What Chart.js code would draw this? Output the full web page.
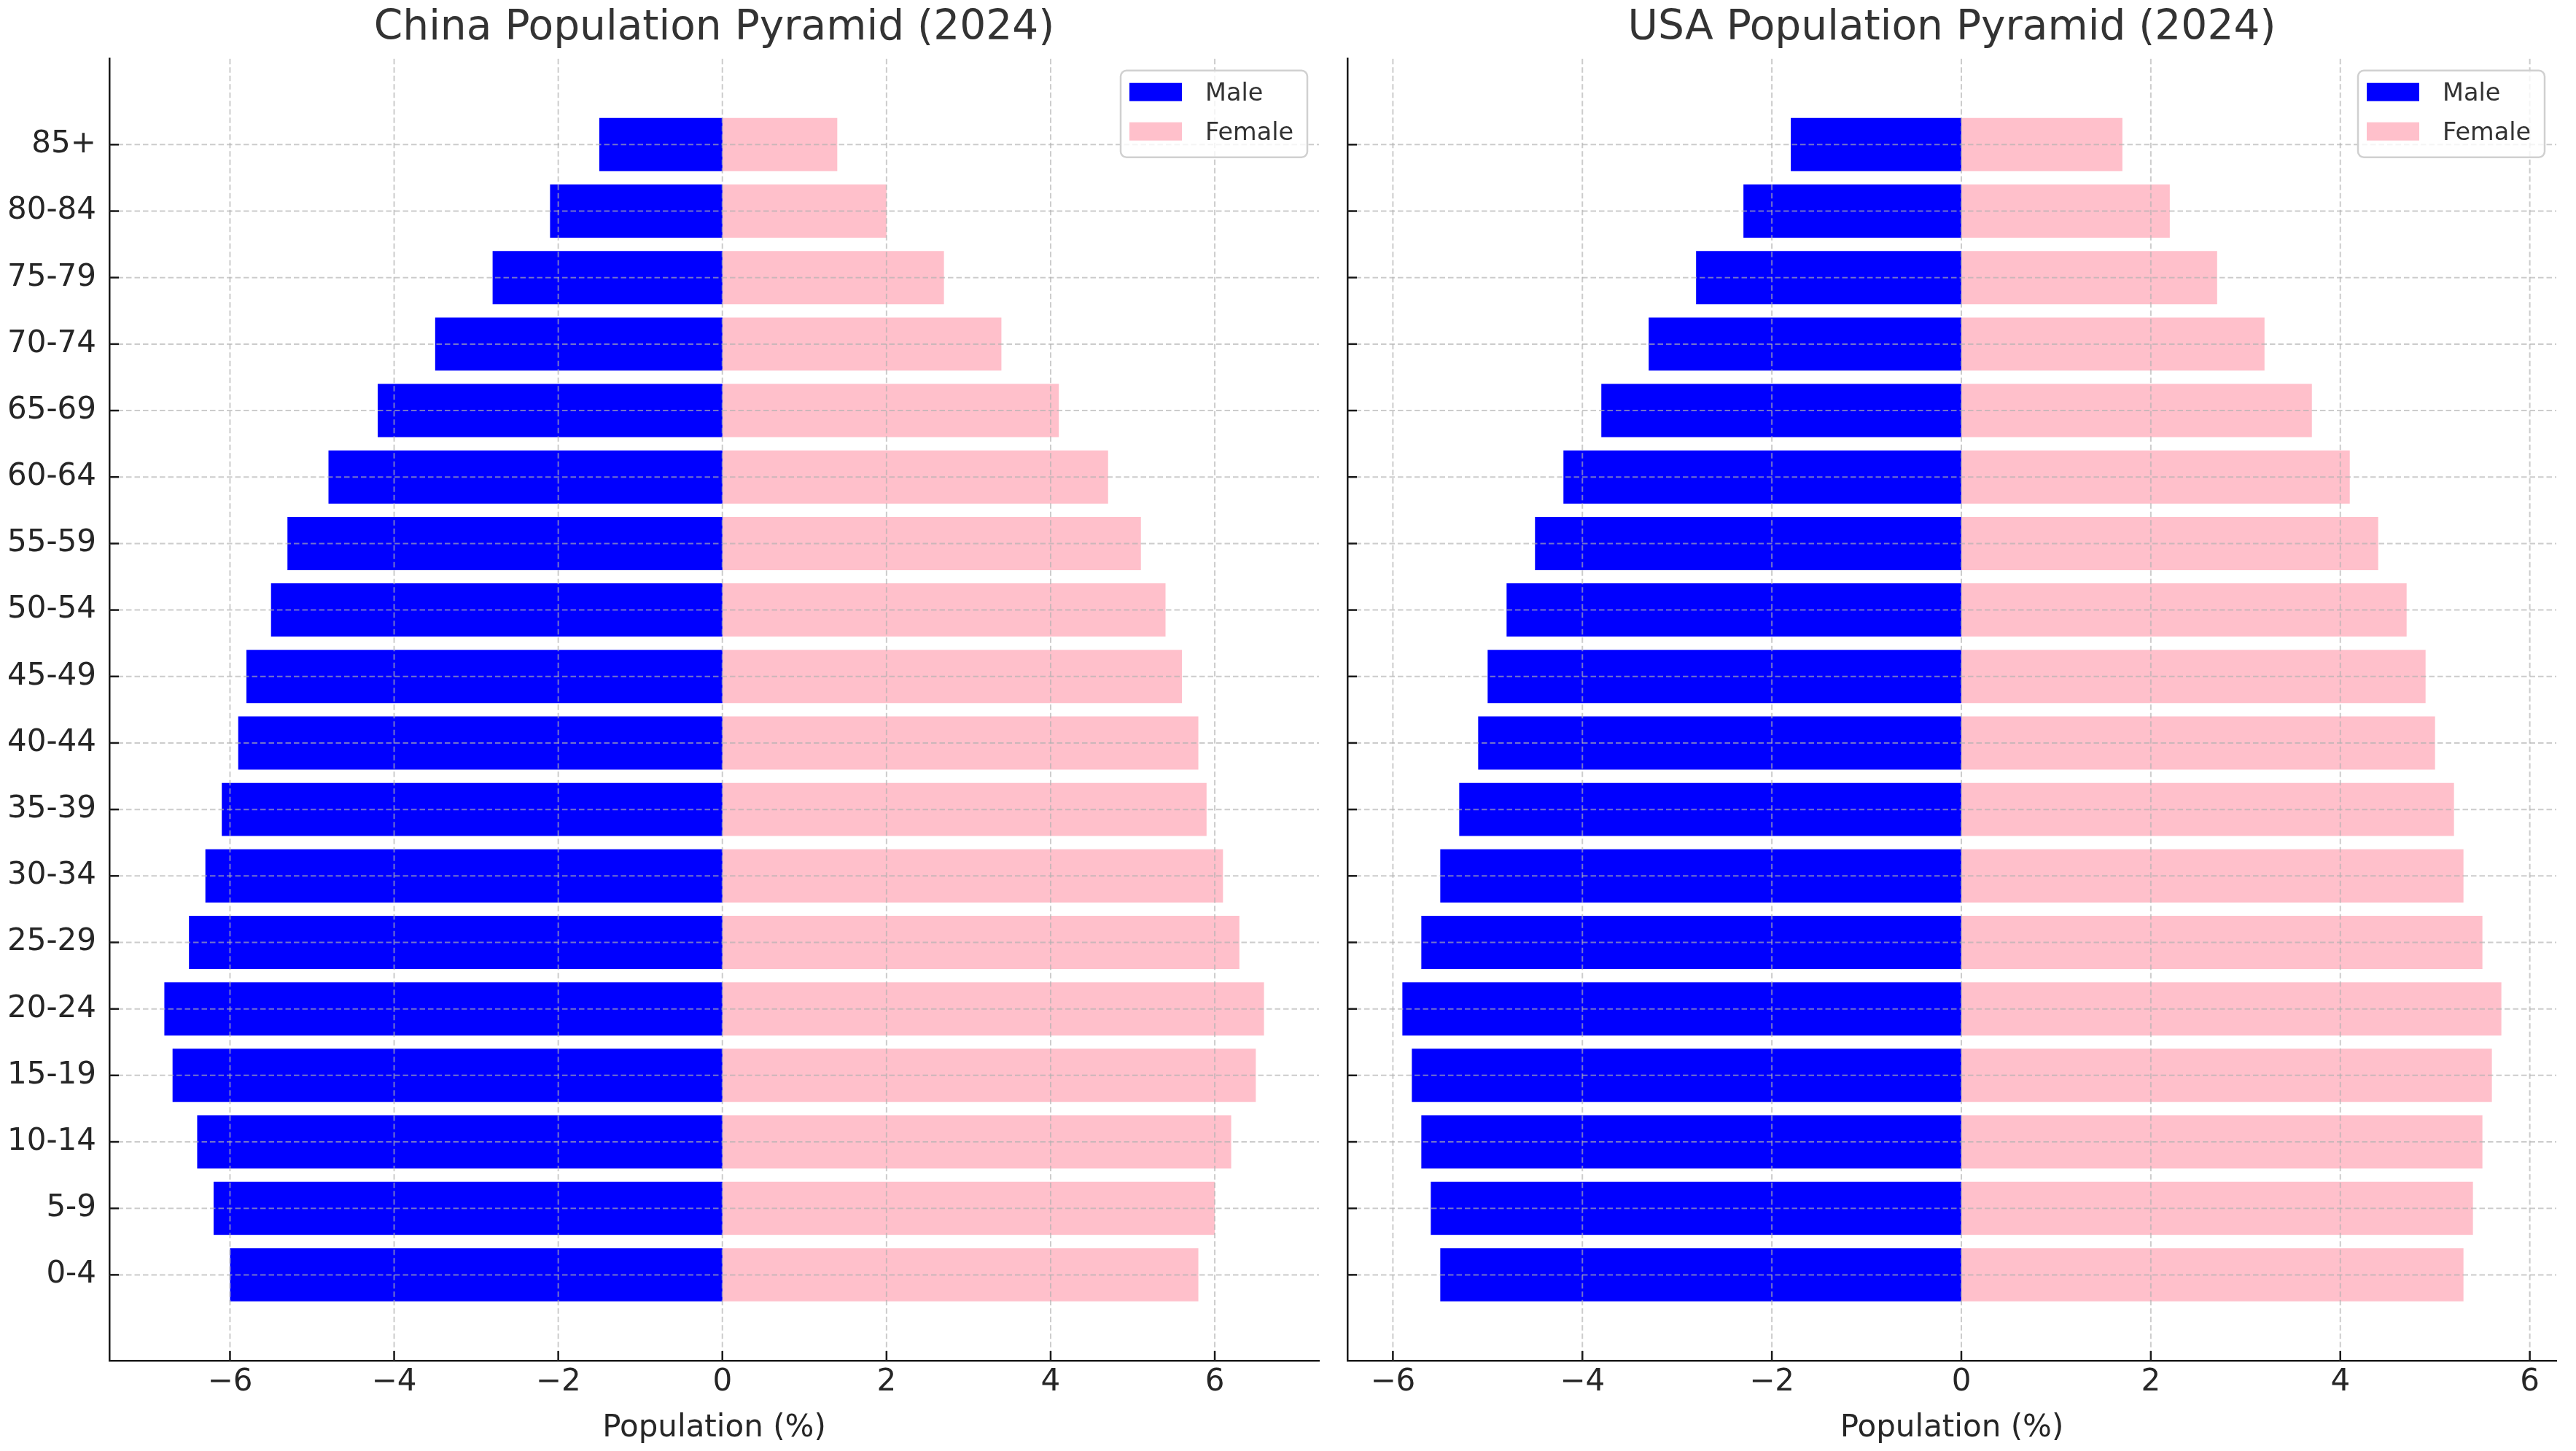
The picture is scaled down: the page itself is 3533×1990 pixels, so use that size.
<!DOCTYPE html>
<html>
<head>
<meta charset="utf-8">
<script src="https://cdn.jsdelivr.net/npm/chart.js@4.4.1/dist/chart.umd.min.js"></script>
<style>
  body { margin: 0; background: #fff; width: 3533px; height: 1990px; overflow: hidden; }
  canvas { position: absolute; top: 0; }
  #china { left: 0; }
  #usa { left: 1828px; }
</style>
</head>
<body>
<canvas id="china" width="1828" height="1990"></canvas>
<canvas id="usa" width="1705" height="1990"></canvas>
<script>
// age groups, bottom to top
var ageGroups = ['0-4', '5-9', '10-14', '15-19', '20-24', '25-29', '30-34', '35-39', '40-44',
                 '45-49', '50-54', '55-59', '60-64', '65-69', '70-74', '75-79', '80-84', '85+'];

// population share (%), male plotted to the left
var chinaMale   = [-6.0, -6.2, -6.4, -6.7, -6.8, -6.5, -6.3, -6.1, -5.9, -5.8, -5.5, -5.3, -4.8, -4.2, -3.5, -2.8, -2.1, -1.5];
var chinaFemale = [5.8, 6.0, 6.2, 6.5, 6.6, 6.3, 6.1, 5.9, 5.8, 5.6, 5.4, 5.1, 4.7, 4.1, 3.4, 2.7, 2.0, 1.4];
var usaMale     = [-5.5, -5.6, -5.7, -5.8, -5.9, -5.7, -5.5, -5.3, -5.1, -5.0, -4.8, -4.5, -4.2, -3.8, -3.3, -2.8, -2.3, -1.8];
var usaFemale   = [5.3, 5.4, 5.5, 5.6, 5.7, 5.5, 5.3, 5.2, 5.0, 4.9, 4.7, 4.4, 4.1, 3.7, 3.2, 2.7, 2.2, 1.7];

var seriesLabels = ['Male', 'Female'];
var seriesColors = ['#0000ff', '#ffc0cb'];
var xTickStep = 2;

Chart.defaults.font.family = "'DejaVu Sans', sans-serif";
Chart.defaults.color = '#262626';

// matplotlib style autoscale (5% margin)
function limits(lo, hi) {
    var pad = (hi - lo) * 0.05;
    return [lo - pad, hi + pad];
}

function minus(v) {
    return (v < 0 ? '\u2212' : '') + Math.abs(v);
}

// dashed grid on top of the bars, inward tick marks, legend inside the axes
var overlay = {
    id: 'overlay',
    afterDatasetsDraw: function (chart) {
        var ctx = chart.ctx, area = chart.chartArea;
        var xs = chart.scales.x, ys = chart.scales.y;
        ctx.save();
        ctx.strokeStyle = 'rgba(176,176,176,0.65)';
        ctx.lineWidth = 2;
        ctx.setLineDash([7.5, 4]);
        xs.ticks.forEach(function (t) {
            var px = xs.getPixelForValue(t.value);
            ctx.beginPath();
            ctx.moveTo(px, area.top);
            ctx.lineTo(px, area.bottom);
            ctx.stroke();
        });
        ys.ticks.forEach(function (t) {
            var py = ys.getPixelForValue(t.value);
            ctx.beginPath();
            ctx.moveTo(area.left, py);
            ctx.lineTo(area.right, py);
            ctx.stroke();
        });
        ctx.setLineDash([]);
        ctx.strokeStyle = '#1a1a1a';
        ctx.lineWidth = 2.5;
        xs.ticks.forEach(function (t) {
            var px = xs.getPixelForValue(t.value);
            ctx.beginPath();
            ctx.moveTo(px, area.bottom);
            ctx.lineTo(px, area.bottom - 13);
            ctx.stroke();
        });
        ys.ticks.forEach(function (t) {
            var py = ys.getPixelForValue(t.value);
            ctx.beginPath();
            ctx.moveTo(area.left, py);
            ctx.lineTo(area.left + 13, py);
            ctx.stroke();
        });
        ctx.restore();
    },
    afterDraw: function (chart) {
        var ctx = chart.ctx, area = chart.chartArea;
        var w = 256, h = 119;
        var bx = area.right - 16 - w, by = area.top + 16;
        ctx.save();
        ctx.beginPath();
        ctx.roundRect(bx, by, w, h, 8);
        ctx.fillStyle = 'rgba(255,255,255,0.8)';
        ctx.fill();
        ctx.strokeStyle = '#d0d0d0';
        ctx.lineWidth = 2.5;
        ctx.stroke();
        ctx.font = "33.5px 'DejaVu Sans'";
        ctx.textBaseline = 'alphabetic';
        chart.data.datasets.forEach(function (ds, i) {
            ctx.fillStyle = ds.backgroundColor;
            ctx.fillRect(bx + 12, by + 17 + i * 54, 72, 25);
            ctx.fillStyle = '#333';
            ctx.fillText(ds.label, bx + 116, by + 41 + i * 54);
        });
        ctx.restore();
    }
};

function makeChart(id, title, male, female, yAxisWidth, padRight, showLabels) {
    var xl = limits(Math.min(0, Math.min.apply(null, male)), Math.max(0, Math.max.apply(null, female)));
    var yl = limits(-0.4, ageGroups.length - 1 + 0.4);

    return new Chart(document.getElementById(id), {
        type: 'bar',
        data: {
            datasets: [
                { label: seriesLabels[0], backgroundColor: seriesColors[0],
                  data: male.map(function (v, i) { return { x: v, y: i }; }) },
                { label: seriesLabels[1], backgroundColor: seriesColors[1],
                  data: female.map(function (v, i) { return { x: v, y: i }; }) }
            ]
        },
        options: {
            indexAxis: 'y',
            responsive: false,
            devicePixelRatio: 1,
            animation: false,
            layout: { padding: { left: 0, right: padRight, top: 0, bottom: 0 } },
            datasets: { bar: { grouped: false, barPercentage: 0.8, categoryPercentage: 1, borderWidth: 0 } },
            plugins: {
                legend: { display: false },
                tooltip: { enabled: false },
                title: {
                    display: true,
                    fullSize: false,
                    text: title,
                    color: '#333',
                    font: { size: 56.6, weight: 'normal' },
                    padding: { top: 5.5, bottom: 7.3 }
                }
            },
            scales: {
                x: {
                    type: 'linear',
                    min: xl[0],
                    max: xl[1],
                    offset: false,
                    grid: { display: false, drawTicks: false },
                    border: { display: true, color: '#1a1a1a', width: 2.5 },
                    ticks: {
                        stepSize: xTickStep,
                        includeBounds: false,
                        autoSkip: false,
                        maxRotation: 0,
                        padding: 5,
                        font: { size: 42 },
                        callback: function (v) { return minus(v); }
                    },
                    title: {
                        display: true,
                        text: 'Population (%)',
                        color: '#262626',
                        font: { size: 42 },
                        padding: { top: 0, bottom: 6 }
                    },
                    afterFit: function (s) { s.height = 124; }
                },
                y: {
                    type: 'linear',
                    min: yl[0],
                    max: yl[1],
                    offset: false,
                    grid: { display: false, drawTicks: false, offset: false },
                    border: { display: true, color: '#1a1a1a', width: 2.5 },
                    afterBuildTicks: function (s) {
                        s.ticks = ageGroups.map(function (g, i) { return { value: i }; });
                    },
                    ticks: {
                        display: showLabels,
                        autoSkip: false,
                        padding: 18,
                        font: { size: 42 },
                        callback: function (v) { return ageGroups[v]; }
                    },
                    afterFit: function (s) { s.width = yAxisWidth; }
                }
            }
        },
        plugins: [overlay]
    });
}

makeChart('china', 'China Population Pyramid (2024)', chinaMale, chinaFemale, 150, 19, true);
makeChart('usa', 'USA Population Pyramid (2024)', usaMale, usaFemale, 20, 27, false);
</script>
</body>
</html>
